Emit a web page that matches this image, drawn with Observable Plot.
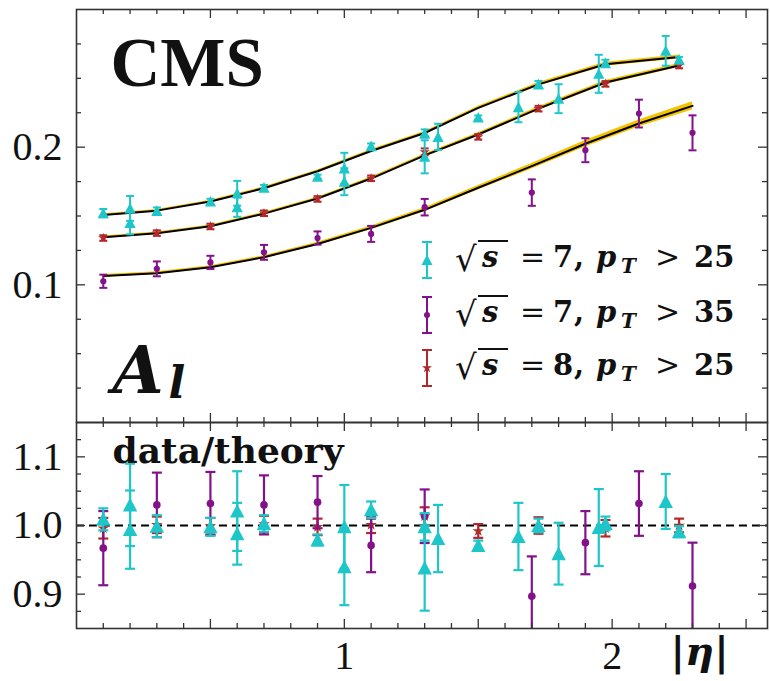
<!DOCTYPE html>
<html>
<head>
<meta charset="utf-8">
<script src="https://cdn.jsdelivr.net/npm/d3@7"></script>
<script src="https://cdn.jsdelivr.net/npm/@observablehq/plot@0.6"></script>
<style>
  html, body { margin: 0; padding: 0; background: #fff; }
  #chart { position: relative; width: 770px; height: 681px; overflow: hidden; background: #fff; }
  #chart > svg { position: absolute; left: 0; top: 0; overflow: visible; }
  .rm { font-family: "Liberation Serif", "Times New Roman", Times, "DejaVu Serif", serif; }
</style>
</head>
<body>
<div id="chart"></div>
<script>
// ---------------- data ----------------
// sqrt(s)=7 TeV, pT>25 (cyan triangles)
const cyanEta      = [0.1, 0.2, 0.2, 0.3, 0.5, 0.6, 0.6, 0.7, 0.9, 1.0, 1.0, 1.1, 1.3, 1.3, 1.35, 1.5, 1.65, 1.725, 1.8, 1.95, 1.975, 2.2, 2.25];
const cyanA        = [0.1521, 0.1555, 0.1450, 0.1537, 0.1605, 0.1665, 0.1564, 0.1706, 0.1785, 0.1846, 0.1749, 0.2007, 0.2099, 0.1930, 0.2075, 0.2215, 0.2291, 0.2456, 0.2352, 0.2533, 0.2610, 0.2700, 0.2636];
const cyanAErr     = [0.0030, 0.0090, 0.0083, 0.0025, 0.0020, 0.0090, 0.0070, 0.0020, 0.0015, 0.0113, 0.0098, 0.0020, 0.0030, 0.0120, 0.0095, 0.0015, 0.0110, 0.0025, 0.0105, 0.0138, 0.0025, 0.0108, 0.0020];
const cyanRatio    = [1.009, 1.030, 0.994, 0.999, 0.998, 1.021, 0.988, 1.003, 0.979, 0.998, 0.940, 1.023, 0.998, 0.938, 0.981, 0.971, 0.984, 1.000, 0.959, 0.997, 1.003, 1.035, 0.991];
const cyanRatioErr = [0.016, 0.060, 0.057, 0.016, 0.013, 0.058, 0.045, 0.012, 0.008, 0.061, 0.056, 0.012, 0.020, 0.062, 0.049, 0.007, 0.049, 0.010, 0.045, 0.056, 0.010, 0.040, 0.008];

// sqrt(s)=7 TeV, pT>35 (purple dots)
const purpEta      = [0.1, 0.3, 0.5, 0.7, 0.9, 1.1, 1.3, 1.7, 1.9, 2.1, 2.3];
const purpA        = [0.1026, 0.1116, 0.1163, 0.1236, 0.1340, 0.1370, 0.1564, 0.1670, 0.1978, 0.2244, 0.2104];
const purpAErr     = [0.0048, 0.0054, 0.0048, 0.0054, 0.0048, 0.0058, 0.0060, 0.0096, 0.0087, 0.0101, 0.0127];
const purpRatio    = [0.967, 1.030, 1.032, 1.030, 1.034, 0.971, 1.0135, 0.897, 0.975, 1.032, 0.912];
const purpRatioErr = [0.054, 0.047, 0.046, 0.043, 0.038, 0.039, 0.039, 0.058, 0.046, 0.047, 0.063];

// sqrt(s)=8 TeV, pT>25 (red stars)
const redEta       = [0.1, 0.3, 0.5, 0.7, 0.9, 1.1, 1.3, 1.5, 1.725, 1.975, 2.25];
const redA         = [0.1340, 0.1376, 0.1424, 0.1520, 0.1624, 0.1774, 0.1966, 0.2075, 0.2280, 0.2460, 0.2593];
const redAErr      = [0.0020, 0.0020, 0.0020, 0.0020, 0.0020, 0.0020, 0.0025, 0.0020, 0.0020, 0.0020, 0.0020];
const redRatio     = [0.996, 1.001, 0.999, 1.002, 0.998, 1.001, 1.0135, 0.992, 1.000, 0.996, 1.000];
const redRatioErr  = [0.015, 0.012, 0.012, 0.012, 0.012, 0.012, 0.013, 0.010, 0.012, 0.012, 0.010];

// theory curves (black line) with uncertainty band (yellow)
const th7Eta  = [0.1, 0.3, 0.5, 0.7, 0.9, 1.1, 1.3, 1.5, 1.725, 1.975, 2.25];
const th7     = [0.1507, 0.1539, 0.1606, 0.1702, 0.1825, 0.1972, 0.2103, 0.2285, 0.2456, 0.2602, 0.2655];
const th7Band = [0.0009, 0.0009, 0.0009, 0.0010, 0.0010, 0.0011, 0.0011, 0.0012, 0.0013, 0.0014, 0.0015];
const th8Eta  = [0.1, 0.3, 0.5, 0.7, 0.9, 1.1, 1.3, 1.5, 1.725, 1.975, 2.25];
const th8     = [0.1345, 0.1375, 0.1425, 0.1517, 0.1627, 0.1772, 0.1940, 0.2092, 0.2280, 0.2470, 0.2593];
const th8Band = [0.0009, 0.0009, 0.0009, 0.0010, 0.0010, 0.0011, 0.0011, 0.0012, 0.0013, 0.0014, 0.0015];
const th35Eta = [0.1, 0.3, 0.5, 0.7, 0.9, 1.1, 1.3, 1.5, 1.7, 1.9, 2.1, 2.3];
const th35    = [0.1065, 0.1085, 0.1128, 0.1201, 0.1297, 0.1414, 0.1545, 0.1705, 0.1862, 0.2025, 0.2172, 0.2300];
const th35Band= [0.0010, 0.0010, 0.0010, 0.0011, 0.0012, 0.0013, 0.0015, 0.0017, 0.0020, 0.0023, 0.0026, 0.0030];

// axes / ticks
const xMajorTicks   = [0.5, 1.0, 1.5, 2.0, 2.5];
const xMinorTicks   = [0.1, 0.2, 0.3, 0.4, 0.6, 0.7, 0.8, 0.9, 1.1, 1.2, 1.3, 1.4, 1.6, 1.7, 1.8, 1.9, 2.1, 2.2, 2.3, 2.4];
const xTickLabels   = [1, 2];
const yTopMajor     = [0.1, 0.2];
const yTopMinor     = [0.025, 0.05, 0.075, 0.125, 0.15, 0.175, 0.225, 0.25, 0.275];
const yTopLabels    = [0.1, 0.2];
const yBotMajor     = [0.9, 1.0, 1.1];
const yBotMinor     = [0.875, 0.925, 0.95, 0.975, 1.025, 1.05, 1.075, 1.125];
const yBotLabels    = [0.9, 1.0, 1.1];

// legend
const legendSqrtS = [7, 7, 8];
const legendPtCut = [25, 35, 25];

// ---------------- style ----------------
const C_CYAN = "#1fc6c9", C_PURP = "#83128a", C_RED = "#b3282b", C_BAND = "#f3c300";
const FRAME = "#333", INK = "#111";
const W = 770, H = 681, ML = 76, MR = 3;
const TOP0 = 9, TOP1 = 422, BOT1 = 628;
const xDomain = [0, 2.58];
const SERIF = "'Liberation Serif', 'Times New Roman', Times, 'DejaVu Serif', serif";
const DVS = "'DejaVu Serif', serif";

const capSym = {draw(ctx, size) { const r = Math.sqrt(size / Math.PI); ctx.moveTo(-r, 0); ctx.lineTo(r, 0); }};
const triSym = {draw(ctx, size) { const r = Math.sqrt(size / Math.PI); ctx.moveTo(0, -r); ctx.lineTo(r, r * 0.9); ctx.lineTo(-r, r * 0.9); ctx.closePath(); }};

const zipRows = (eta, a, e, r, re) => eta.map((x, i) => ({eta: x, A: a[i], e: e[i], r: r[i], re: re[i]}));
const cyan = zipRows(cyanEta, cyanA, cyanAErr, cyanRatio, cyanRatioErr);
const purp = zipRows(purpEta, purpA, purpAErr, purpRatio, purpRatioErr);
const red  = zipRows(redEta, redA, redAErr, redRatio, redRatioErr);
const thRows = (eta, t, b) => eta.map((x, i) => ({eta: x, t: t[i], b: b[i]}));
const th7Rows = thRows(th7Eta, th7, th7Band), th8Rows = thRows(th8Eta, th8, th8Band), th35Rows = thRows(th35Eta, th35, th35Band);

function errSeries(rows, val, err, color, sym, r, capR, sw) {
  return [
    Plot.ruleX(rows, {x: "eta", y1: d => d[val] - d[err], y2: d => d[val] + d[err], stroke: color, strokeWidth: sw, clip: true}),
    Plot.dot(rows, {x: "eta", y: d => d[val] - d[err], symbol: capSym, r: capR, stroke: color, strokeWidth: sw, fill: "none", clip: true}),
    Plot.dot(rows, {x: "eta", y: d => d[val] + d[err], symbol: capSym, r: capR, stroke: color, strokeWidth: sw, fill: "none", clip: true}),
    Plot.dot(rows, {x: "eta", y: val, symbol: sym, r, fill: color, stroke: "none", clip: true})
  ];
}
function frameTicks(xMaj, xMin, yMaj, yMin, fh, fw) {
  const s = {stroke: FRAME, strokeWidth: 1.3};
  return [
    Plot.tickX(xMaj, {x: d => d, insetTop: fh - 9, ...s}),
    Plot.tickX(xMin, {x: d => d, insetTop: fh - 5, ...s}),
    Plot.tickX(xMaj, {x: d => d, insetBottom: fh - 9, ...s}),
    Plot.tickX(xMin, {x: d => d, insetBottom: fh - 5, ...s}),
    Plot.tickY(yMaj, {y: d => d, insetRight: fw - 9, ...s}),
    Plot.tickY(yMin, {y: d => d, insetRight: fw - 5, ...s}),
    Plot.tickY(yMaj, {y: d => d, insetLeft: fw - 9, ...s}),
    Plot.tickY(yMin, {y: d => d, insetLeft: fw - 5, ...s})
  ];
}
const fw = W - ML - MR;
const tickFont = {fontSize: 40, fontFamily: SERIF};

const topPlot = Plot.plot({
  width: W, height: H, marginLeft: ML, marginRight: MR, marginTop: TOP0, marginBottom: H - TOP1,
  x: {domain: xDomain, axis: null},
  y: {domain: [0, 0.3]},
  marks: [
    ...[th7Rows, th8Rows, th35Rows].flatMap(rows => [
      Plot.areaY(rows, {x: "eta", y1: d => d.t - d.b, y2: d => d.t + d.b, fill: C_BAND}),
      Plot.line(rows, {x: "eta", y: "t", stroke: "black", strokeWidth: 2})
    ]),
    ...errSeries(red, "A", "e", C_RED, "star", 3.2, 4, 2),
    ...errSeries(purp, "A", "e", C_PURP, "circle", 3.1, 4, 2),
    ...errSeries(cyan, "A", "e", C_CYAN, triSym, 5.6, 4, 2),
    Plot.axisY({ticks: yTopLabels, tickFormat: d3.format(".1f"), tickSize: 0, tickPadding: 14, label: null, ...tickFont, fill: INK}),
    ...frameTicks(xMajorTicks, xMinorTicks, yTopMajor, yTopMinor, TOP1 - TOP0, fw),
    Plot.frame({stroke: FRAME, strokeWidth: 1.6}),
    Plot.text(["CMS"], {frameAnchor: "top-left", dx: 34, dy: 27, textAnchor: "start", lineAnchor: "top",
      fontSize: 69, fontWeight: "bold", fontFamily: SERIF, fill: INK}),
    Plot.text(["A"], {frameAnchor: "top-left", dx: 36, dy: 337, textAnchor: "start", lineAnchor: "top",
      fontSize: 66, fontWeight: "bold", fontStyle: "italic", fontFamily: DVS, fill: INK}),
    Plot.text(["l"], {frameAnchor: "top-left", dx: 92, dy: 357, textAnchor: "start", lineAnchor: "top",
      fontSize: 44, fontWeight: "bold", fontStyle: "italic", fontFamily: DVS, fill: INK})
  ]
});

const botPlot = Plot.plot({
  width: W, height: H, marginLeft: ML, marginRight: MR, marginTop: TOP1, marginBottom: H - BOT1,
  x: {domain: xDomain},
  y: {domain: [0.85, 1.15]},
  marks: [
    Plot.ruleY([1], {stroke: "black", strokeWidth: 2.2, strokeDasharray: "8,5"}),
    ...errSeries(red, "r", "re", C_RED, "star", 3.6, 5, 2.2),
    ...errSeries(purp, "r", "re", C_PURP, "circle", 3.8, 5, 2.2),
    ...errSeries(cyan, "r", "re", C_CYAN, triSym, 7.2, 5, 2.2),
    Plot.axisY({ticks: yBotLabels, tickFormat: d3.format(".1f"), tickSize: 0, tickPadding: 14, label: null, ...tickFont, fill: INK}),
    Plot.axisX({ticks: xTickLabels, tickFormat: d3.format("d"), tickSize: 0, tickPadding: 12, label: null, ...tickFont, fill: INK}),
    ...frameTicks(xMajorTicks, xMinorTicks, yBotMajor, yBotMinor, BOT1 - TOP1, fw),
    Plot.frame({stroke: FRAME, strokeWidth: 1.6}),
    Plot.text(["data/theory"], {frameAnchor: "top-left", dx: 36, dy: 15, textAnchor: "start", lineAnchor: "top",
      fontSize: 36, fontWeight: "bold", fontFamily: DVS, fill: INK}),
    Plot.text(["|η|"], {frameAnchor: "bottom-right", dx: -97, dy: 8, textAnchor: "start", lineAnchor: "top",
      fontSize: 40, fontWeight: "bold", fontStyle: "italic", fontFamily: DVS, fill: INK})
  ]
});

const chart = document.getElementById("chart");
for (const p of [topPlot, botPlot]) {
  p.style.background = "transparent";
  p.style.overflow = "visible";
  chart.appendChild(p);
}
// make sure tick labels and CMS use the roman serif face
d3.selectAll("#chart svg g[aria-label$='tick label'] text").attr("class", "rm").style("font-family", SERIF);
d3.selectAll("#chart svg g[aria-label$='tick label']").style("font-family", SERIF);

// ---------------- legend (inside top panel) ----------------
const legendColors = [C_CYAN, C_PURP, C_RED];
const legendSyms = [triSym, d3.symbolCircle, d3.symbolStar];
const legendSizes = [Math.PI * 30, Math.PI * 9, Math.PI * 10];
const legendBaselines = [267, 322, 375];
const leg = d3.create("svg").attr("width", W).attr("height", H)
  .style("position", "absolute").style("left", 0).style("top", 0).style("pointer-events", "none");
legendSqrtS.forEach((sv, i) => {
  const b = legendBaselines[i], cy = b - 7, col = legendColors[i];
  const g = leg.append("g").attr("stroke", col).attr("stroke-width", 2);
  g.append("line").attr("x1", 427).attr("x2", 427).attr("y1", cy - 18).attr("y2", cy + 18);
  g.append("line").attr("x1", 422).attr("x2", 432).attr("y1", cy - 18).attr("y2", cy - 18);
  g.append("line").attr("x1", 422).attr("x2", 432).attr("y1", cy + 18).attr("y2", cy + 18);
  leg.append("path").attr("transform", `translate(427,${cy})`)
     .attr("d", d3.symbol(legendSyms[i], legendSizes[i])()).attr("fill", col);
  const t = (x, s, o = {}) => leg.append("text").attr("x", x).attr("y", b + (o.dy || 0)).text(s)
     .style("font-family", o.family || DVS).attr("font-size", o.size || 29).attr("font-weight", o.weight || "bold")
     .attr("font-style", o.italic ? "italic" : "normal").attr("fill", INK);
  t(455, "√", {weight: "normal", size: 34, dy: 4});
  leg.append("line").attr("x1", 478).attr("x2", 508).attr("y1", b - 26).attr("y2", b - 26)
     .attr("stroke", INK).attr("stroke-width", 2);
  t(482, "s", {italic: true});
  t(520, "=", {weight: "normal", size: 30});
  t(553, String(sv));
  t(574, ",");
  t(596, "p", {italic: true});
  t(621, "T", {italic: true, size: 20, dy: 6});
  t(655, ">", {weight: "normal", size: 30});
  t(694, String(legendPtCut[i]));
});
chart.appendChild(leg.node());
</script>
</body>
</html>
